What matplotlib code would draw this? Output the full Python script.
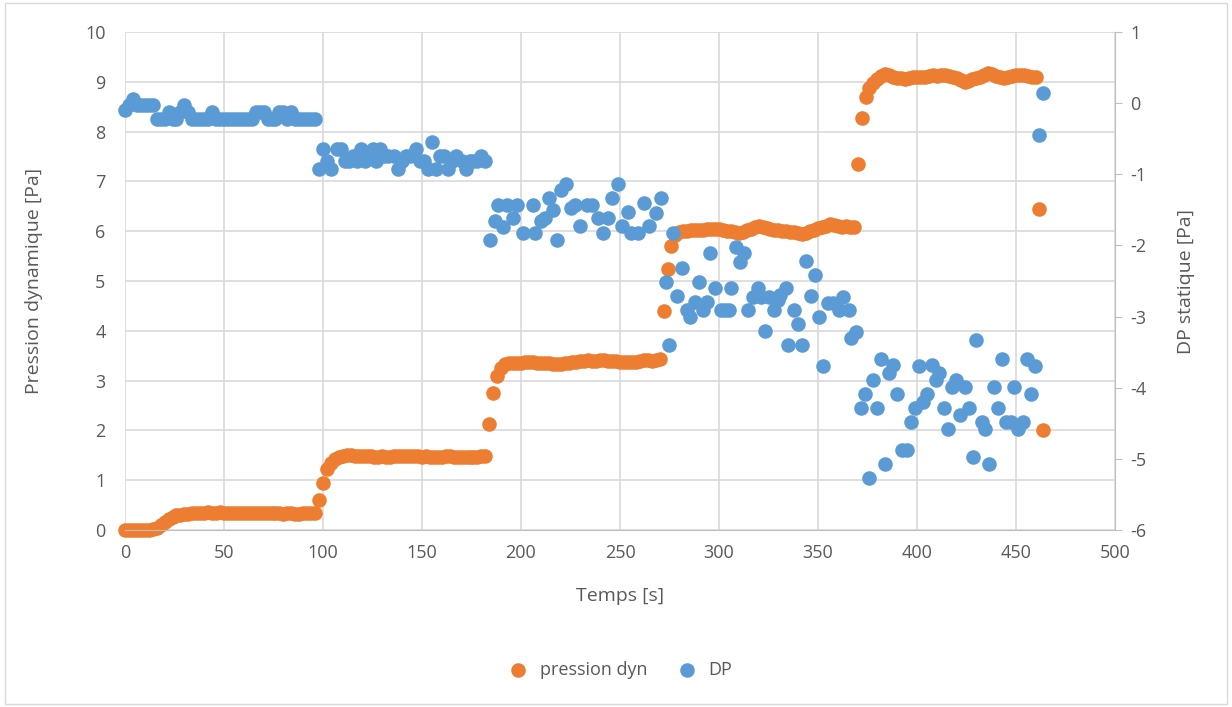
import matplotlib.pyplot as plt
import numpy as np
from matplotlib.patches import Rectangle

# ---------
# DONNEES

# pression dynamique [Pa], un point toutes les 2 s de 0 a 460 s
temps_dyn = np.arange(0, 462, 2)
pression_dyn = [
    # 0 - 96 s
    0.0, 0.0, 0.0, 0.01, 0.0, 0.01, 0.01, 0.02,
    0.05, 0.1, 0.17, 0.23, 0.27, 0.3, 0.31,
    0.32, 0.33, 0.34, 0.35, 0.35, 0.35, 0.36, 0.35, 0.35, 0.36, 0.35, 0.35,
    0.35, 0.35, 0.35, 0.34, 0.35, 0.35, 0.34, 0.34, 0.34, 0.35, 0.34, 0.34,
    0.34, 0.33, 0.34, 0.34, 0.33, 0.33, 0.34, 0.34, 0.34, 0.35,
    # 98 - 182 s
    0.6, 0.95, 1.22, 1.35, 1.43, 1.47, 1.49, 1.5,
    1.5, 1.49, 1.49, 1.48, 1.48, 1.48, 1.47, 1.47, 1.48, 1.47, 1.47, 1.48,
    1.48, 1.48, 1.48, 1.49, 1.48, 1.48, 1.47, 1.48, 1.47, 1.46, 1.46, 1.47,
    1.48, 1.48, 1.46, 1.46, 1.47, 1.47, 1.46, 1.47, 1.47, 1.48, 1.49,
    # 184 - 270 s
    2.12, 2.75, 3.1, 3.26, 3.33, 3.36,
    3.36, 3.35, 3.36, 3.37, 3.38, 3.37, 3.36, 3.35, 3.35, 3.36, 3.34, 3.34,
    3.33, 3.35, 3.36, 3.37, 3.38, 3.39, 3.4, 3.41, 3.4, 3.4, 3.41, 3.41,
    3.4, 3.4, 3.39, 3.38, 3.38, 3.37, 3.37, 3.38, 3.39, 3.41, 3.42, 3.4,
    3.41, 3.43,
    # 272 - 368 s
    4.4, 5.25, 5.7, 5.93,
    5.98, 6.0, 6.01, 6.02, 6.02, 6.02, 6.03, 6.04, 6.05, 6.05, 6.04, 6.03,
    6.01, 6.0, 5.98, 5.97, 5.99, 6.02, 6.05, 6.08, 6.1, 6.08, 6.06, 6.05,
    6.03, 6.02, 6.01, 6.0, 5.99, 5.98, 5.97, 5.95, 5.96, 6.0, 6.03, 6.06,
    6.08, 6.1, 6.15, 6.12, 6.1, 6.08, 6.1, 6.09, 6.09,
    # 370 - 460 s
    7.35, 8.27, 8.7, 8.88, 8.98, 9.05, 9.12, 9.15,
    9.13, 9.1, 9.08, 9.07, 9.06, 9.08, 9.1, 9.1, 9.09, 9.1, 9.12, 9.13,
    9.12, 9.13, 9.14, 9.12, 9.1, 9.08, 9.03, 9.0, 9.02, 9.05, 9.08, 9.1,
    9.13, 9.17, 9.15, 9.12, 9.1, 9.08, 9.1, 9.12, 9.13, 9.14, 9.13, 9.12,
    9.1, 9.1,
]
temps_dyn_fin = [461.6, 463.4]
pression_dyn_fin = [6.45, 2.0]

# DP statique [Pa]
temps_dp = [
    0, 2, 4, 6, 8, 10, 12, 14, 16, 18, 20, 22, 24, 26, 28, 30, 32, 34, 36, 38,
    40, 42, 44, 46, 48, 50, 52, 54, 56, 58, 60, 62, 64, 66, 68, 70, 72, 74, 76,
    78, 80, 82, 84, 86, 88, 90, 92, 94, 96,
    98, 100, 102, 104, 107, 109, 111, 113, 115, 117, 119, 121, 123, 125, 127,
    129, 131, 133, 136, 138, 140, 142, 144, 147, 149, 151, 153, 155, 157, 159,
    161, 163, 165, 167, 170, 172, 174, 176, 178, 180, 182,
    184.5, 187, 188.6, 191, 193, 196, 198, 201, 206, 207, 210, 212, 214, 216,
    218, 220, 222.5, 225, 227.5, 230, 233.5, 236, 239, 241.5, 244, 246, 249,
    251, 254, 255.5, 259, 262, 264.5, 268, 270.5,
    273, 274.5, 277, 279, 281.5, 284, 285.5, 288, 289.7, 292, 294, 295.7, 298,
    300.8, 303, 305, 306, 308.5, 310.5, 312.5, 314.5, 317, 319.5, 321, 323,
    325, 327.7, 329.6, 331, 333.7, 335, 337.7, 339.7, 342, 344, 346.3, 348.3,
    350.4, 352.4, 355, 357.4, 360.5, 362.5, 365.5, 366.5, 369,
    371.6, 373.6, 375.7, 377.6, 380, 382, 384, 386, 388, 390, 392.6, 394.8,
    397, 399, 401, 403, 405, 407.5, 409.5, 411, 413.5, 415.6, 417.6, 419.6,
    421.7, 424, 426.2, 428.2, 430, 432.7, 434.3, 436.3, 438.8, 440.8, 442.9,
    444.9, 447.4, 449, 451, 453.5, 455.5, 457.5, 459.5, 461.6, 463.6,
]
dp = [
    -0.10, -0.02, 0.06, -0.02, -0.02, -0.02, -0.02, -0.02, -0.22, -0.22,
    -0.22, -0.12, -0.22, -0.22, -0.12, -0.02, -0.12, -0.22, -0.22, -0.22,
    -0.22, -0.22, -0.12, -0.22, -0.22, -0.22, -0.22, -0.22, -0.22, -0.22,
    -0.22, -0.22, -0.22, -0.12, -0.12, -0.12, -0.22, -0.22, -0.22, -0.12,
    -0.12, -0.22, -0.12, -0.22, -0.22, -0.22, -0.22, -0.22, -0.22,
    -0.92, -0.64, -0.82, -0.92, -0.64, -0.64, -0.82, -0.82, -0.74, -0.82,
    -0.64, -0.82, -0.74, -0.64, -0.82, -0.64, -0.74, -0.74, -0.74, -0.92,
    -0.82, -0.74, -0.74, -0.64, -0.82, -0.82, -0.92, -0.54, -0.92, -0.74,
    -0.74, -0.92, -0.82, -0.74, -0.82, -0.92, -0.82, -0.82, -0.82, -0.74,
    -0.82,
    -1.93, -1.65, -1.43, -1.74, -1.43, -1.62, -1.43, -1.82, -1.43, -1.82,
    -1.65, -1.62, -1.33, -1.50, -1.93, -1.22, -1.13, -1.48, -1.43, -1.72,
    -1.43, -1.43, -1.62, -1.82, -1.62, -1.33, -1.13, -1.72, -1.53, -1.82,
    -1.82, -1.41, -1.72, -1.55, -1.33,
    -2.51, -3.40, -1.83, -2.71, -2.32, -2.91, -3.00, -2.79, -2.51, -2.91,
    -2.79, -2.11, -2.60, -2.91, -2.91, -2.91, -2.60, -2.02, -2.23, -2.11,
    -2.91, -2.72, -2.60, -2.72, -3.20, -2.72, -2.91, -2.77, -2.70, -2.60,
    -3.40, -2.91, -3.10, -3.40, -2.22, -2.71, -2.42, -3.00, -3.70, -2.81,
    -2.81, -2.91, -2.72, -2.91, -3.30, -3.21,
    -4.29, -4.09, -5.27, -3.89, -4.29, -3.60, -5.07, -3.80, -3.68, -4.09,
    -4.87, -4.87, -4.48, -4.29, -3.70, -4.20, -4.09, -3.68, -3.89, -3.80,
    -4.29, -4.58, -3.99, -3.89, -4.38, -3.99, -4.29, -4.97, -3.33, -4.48,
    -4.58, -5.07, -3.99, -4.29, -3.60, -4.48, -4.48, -3.99, -4.58, -4.48,
    -3.60, -4.09, -3.70, -0.45, 0.14,
]

ORANGE = '#ED7D31'
BLEU = '#5B9BD5'
GRIS = '#595959'
GRILLE = '#D9D9D9'

plt.rcParams['font.family'] = ['Open Sans', 'DejaVu Sans']
plt.rcParams['axes.unicode_minus'] = False

fig = plt.figure(figsize=(12.32, 7.07), dpi=100)
ax = fig.add_axes([125/1232, 1 - 530/707, 990/1232, 498/707])
ax2 = ax.twinx()

ax.scatter(np.concatenate([temps_dyn, temps_dyn_fin]), pression_dyn + pression_dyn_fin,
           s=110, c=ORANGE, linewidths=0, clip_on=False, label='pression dyn')
ax2.scatter(temps_dp, dp, s=110, c=BLEU, linewidths=0, clip_on=False, label='DP')

ax.set_xlim(0, 500)
ax.set_ylim(0, 10)
ax2.set_ylim(-6, 1)
ax.set_xticks(np.arange(0, 501, 50))
ax.set_yticks(np.arange(0, 11, 1))
ax2.set_yticks(np.arange(-6, 2, 1))

ax.grid(True, color=GRILLE, linewidth=1.2)
ax.set_axisbelow(True)
for a in (ax, ax2):
    for side in ('top', 'left', 'right', 'bottom'):
        a.spines[side].set_visible(False)
ax2.spines['right'].set_visible(True)
ax2.spines['right'].set_color('#BFBFBF')
ax.spines['bottom'].set_visible(True)
ax.spines['bottom'].set_color('#BFBFBF')

ax.tick_params(axis='x', length=0, labelsize=13, labelcolor=GRIS, pad=10)
ax.tick_params(axis='y', length=0, labelsize=13, labelcolor=GRIS, pad=14)
ax2.tick_params(axis='y', length=5, color='#BFBFBF', labelsize=13, labelcolor=GRIS, pad=6)

ax.set_xlabel('Temps [s]', fontsize=14, color=GRIS, labelpad=18)
ax.set_ylabel('Pression dynamique [Pa]', fontsize=14, color=GRIS, labelpad=30)
ax2.set_ylabel('DP statique [Pa]', fontsize=14, color=GRIS, labelpad=22)

h1, l1 = ax.get_legend_handles_labels()
h2, l2 = ax2.get_legend_handles_labels()
fig.legend(h1 + h2, l1 + l2, loc='center', bbox_to_anchor=(0.5, 1 - 670/707), ncol=2,
           frameon=False, fontsize=13, labelcolor=GRIS, handletextpad=0.2,
           columnspacing=1.2, markerscale=1.0)

fig.patches.append(Rectangle((0.004, 0.004), 0.992, 0.992, transform=fig.transFigure,
                             fill=False, edgecolor=GRILLE, linewidth=1))

fig.savefig('out.png', dpi=100)
